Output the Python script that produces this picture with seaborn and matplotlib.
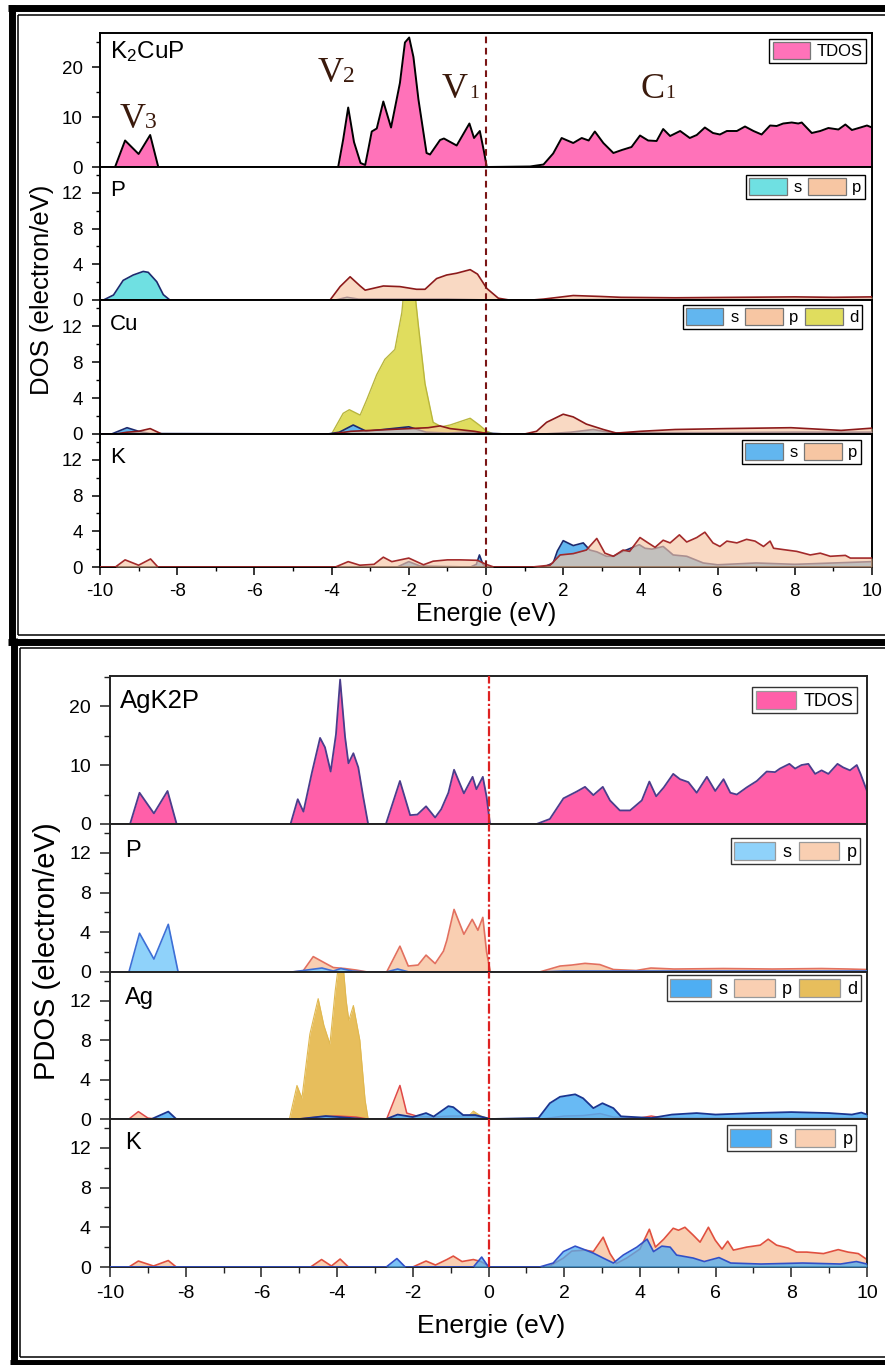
import numpy as np
import matplotlib
matplotlib.use("Agg")
import matplotlib.pyplot as plt
import seaborn as sns
from matplotlib.lines import Line2D
from matplotlib.patches import Patch
from matplotlib.ticker import MultipleLocator

# ---------------------------------------------------------------- data
# (energy in eV, DOS in electron/eV)
ENERGY_TICKS = [-10, -8, -6, -4, -2, 0, 2, 4, 6, 8, 10]

# K2CuP
k2cup_tdos = [(-10, 0), (-9.61, 0), (-9.35, 5.3), (-9.0, 2.6), (-8.70, 6.4), (-8.49, 0),
              (-3.83, 0), (-3.70, 5.5), (-3.57, 11.9), (-3.42, 5.0), (-3.25, 0.8), (-3.13, 0.4),
              (-3.05, 3.5), (-2.96, 7.1), (-2.83, 7.7), (-2.66, 13.1), (-2.46, 7.9), (-2.23, 16.8),
              (-2.10, 24.9), (-1.99, 25.9), (-1.88, 22.0), (-1.75, 13.5), (-1.54, 2.8), (-1.45, 2.5),
              (-1.19, 5.4), (-1.09, 5.7), (-0.76, 4.3), (-0.43, 8.7), (-0.31, 5.8), (-0.16, 7.2),
              (-0.05, 3.0), (0.02, 0.0), (1.14, 0.1), (1.49, 0.5), (1.74, 2.7), (1.96, 5.8),
              (2.26, 4.8), (2.48, 5.8), (2.66, 5.3), (2.82, 7.1), (3.04, 4.8), (3.30, 2.8),
              (3.52, 3.4), (3.77, 4.0), (3.99, 6.3), (4.2, 5.3), (4.42, 5.2), (4.59, 7.6),
              (4.77, 6.2), (5.03, 7.2), (5.28, 5.8), (5.46, 6.4), (5.67, 7.9), (5.88, 6.8),
              (6.06, 6.5), (6.24, 7.2), (6.5, 7.2), (6.71, 8.1), (6.93, 7.2), (7.14, 6.5),
              (7.36, 8.3), (7.53, 8.2), (7.7, 8.7), (7.92, 8.9), (8.09, 8.7), (8.18, 8.9),
              (8.44, 6.8), (8.66, 7.2), (8.87, 7.8), (9.13, 7.5), (9.31, 8.5), (9.48, 7.4),
              (9.70, 7.9), (9.87, 8.3), (10, 7.9)]
k2cup_P_s = [(-10, 0), (-9.91, 0), (-9.65, 0.56), (-9.40, 2.2), (-9.14, 2.8), (-8.88, 3.2),
             (-8.75, 3.1), (-8.53, 2.05), (-8.36, 0.6), (-8.19, 0), (-3.9, 0), (-3.6, 0.3),
             (-3.3, 0.1), (-1.0, 0.1), (0.1, 0.0), (1.5, 0.0), (2.5, 0.05), (10, 0.05)]
k2cup_P_p = [(-10, 0), (-4.04, 0), (-3.78, 1.5), (-3.52, 2.6), (-3.26, 1.57), (-3.13, 1.1),
             (-2.66, 1.57), (-2.23, 1.5), (-1.80, 1.2), (-1.58, 1.2), (-1.28, 2.4), (-1.02, 2.8),
             (-0.76, 3.0), (-0.41, 3.4), (-0.22, 2.9), (0.02, 1.3), (0.32, 0.2), (0.6, 0.0),
             (1.2, 0.0), (1.49, 0.1), (2.26, 0.5), (2.95, 0.4), (3.5, 0.3), (4.9, 0.25),
             (6.5, 0.3), (8.0, 0.35), (9.0, 0.3), (10, 0.35)]
k2cup_Cu_s = [(-10, 0), (-9.7, 0), (-9.3, 0.7), (-9.0, 0.3), (-8.7, 0.05), (-4.1, 0), (-3.8, 0.2),
              (-3.44, 1.0), (-3.1, 0.3), (-2.66, 0.5), (-2.0, 0.8), (-1.55, 0.2), (-1.0, 0.1),
              (-0.5, 0.2), (0.0, 0.1), (0.5, 0), (1.5, 0), (2.2, 0.2), (2.78, 0.5), (3.3, 0.1),
              (4.0, 0.15), (6.0, 0.15), (8.0, 0.2), (10, 0.2)]
k2cup_Cu_p = [(-10, 0), (-9.6, 0), (-9.3, 0.2), (-9.0, 0.3), (-8.7, 0.6), (-8.4, 0), (-4.0, 0),
              (-3.5, 0.3), (-3.0, 0.4), (-2.5, 0.5), (-2.0, 0.6), (-1.5, 0.7), (-1.19, 0.9),
              (-0.93, 0.6), (-0.3, 0.3), (0.1, 0), (1.0, 0), (1.31, 0.3), (1.57, 1.3), (2.0, 2.2),
              (2.26, 1.9), (2.6, 1.1), (3.04, 0.5), (3.38, 0.1), (4.0, 0.3), (4.9, 0.5),
              (6.2, 0.6), (7.9, 0.7), (9.2, 0.4), (10, 0.65)]
k2cup_Cu_d = [(-10, 0), (-4.0, 0), (-3.70, 2.3), (-3.54, 2.7), (-3.26, 2.1), (-3.09, 3.8),
              (-2.83, 6.6), (-2.62, 8.3), (-2.36, 9.4), (-2.18, 13.5), (-2.08, 18.0), (-1.95, 18.5),
              (-1.85, 16.0), (-1.75, 12.0), (-1.58, 5.6), (-1.37, 1.3), (-1.15, 0.8), (-0.93, 1.0),
              (-0.41, 1.75), (-0.16, 0.95), (0.02, 0.3), (0.2, 0), (10, 0)]
k2cup_K_s = [(-10, 0), (-2.3, 0), (-2.0, 0.6), (-1.7, 0.1), (-0.4, 0), (-0.25, 0.3), (-0.17, 1.35),
             (-0.08, 0.3), (0.0, 0), (1.5, 0), (1.74, 0.45), (1.85, 1.8), (2.0, 2.95), (2.26, 2.4),
             (2.52, 2.7), (2.69, 1.9), (2.87, 1.7), (3.12, 1.2), (3.3, 1.2), (3.55, 1.75),
             (3.86, 2.3), (3.97, 2.5), (4.12, 2.1), (4.3, 2.0), (4.59, 2.3), (4.85, 1.35),
             (5.2, 1.2), (5.63, 0.45), (6.0, 0.25), (7.0, 0.45), (8.0, 0.3), (9.0, 0.45), (10, 0.6)]
k2cup_K_p = [(-10, 0), (-9.6, 0), (-9.35, 0.8), (-9.0, 0.2), (-8.69, 0.9), (-8.5, 0), (-3.9, 0),
             (-3.57, 0.6), (-3.27, 0.2), (-2.9, 0.3), (-2.66, 1.1), (-2.44, 0.6), (-2.0, 1.0),
             (-1.62, 0.25), (-1.37, 0.65), (-1.0, 0.8), (-0.67, 0.8), (-0.22, 0.75), (0.0, 0.3),
             (0.2, 0), (1.2, 0), (1.66, 0.2), (1.92, 1.35), (2.26, 1.5), (2.6, 1.9), (2.87, 3.2),
             (3.08, 1.55), (3.3, 1.2), (3.55, 1.9), (3.72, 1.75), (3.99, 3.3), (4.2, 2.7),
             (4.38, 2.2), (4.59, 3.0), (4.77, 2.7), (5.01, 3.6), (5.2, 2.8), (5.46, 3.3),
             (5.67, 3.9), (5.88, 2.7), (6.06, 2.3), (6.24, 2.9), (6.5, 2.7), (6.75, 3.1),
             (6.97, 2.9), (7.19, 2.3), (7.36, 2.9), (7.45, 2.1), (7.79, 1.9), (8.05, 1.75),
             (8.4, 1.35), (8.66, 1.55), (8.92, 1.2), (9.31, 1.3), (9.44, 1.0), (10, 1.0)]

# AgK2P
agk2p_tdos = [(-10, 0), (-9.47, 0), (-9.22, 5.3), (-8.84, 1.8), (-8.48, 5.6), (-8.24, 0),
              (-5.23, 0), (-5.04, 4.2), (-4.89, 2.1), (-4.67, 8.6), (-4.45, 14.6), (-4.32, 13.0),
              (-4.17, 8.9), (-4.03, 15.2), (-3.92, 24.5), (-3.79, 14.8), (-3.70, 10.3),
              (-3.57, 12.0), (-3.44, 9.6), (-3.31, 4.6), (-3.18, 0), (-2.71, 0), (-2.34, 7.3),
              (-2.07, 1.5), (-1.88, 1.6), (-1.65, 3.0), (-1.41, 1.1), (-1.25, 2.5), (-1.06, 5.3),
              (-0.91, 9.2), (-0.65, 5.2), (-0.42, 8.0), (-0.32, 5.9), (-0.15, 8.0), (-0.05, 4.6),
              (0.04, 0), (1.27, 0), (1.62, 0.85), (1.98, 4.35), (2.33, 5.5), (2.55, 6.3),
              (2.77, 4.9), (3.02, 6.3), (3.21, 4.0), (3.47, 2.3), (3.74, 2.3), (4.05, 4.0),
              (4.25, 7.2), (4.43, 4.7), (4.63, 6.2), (4.88, 8.5), (5.06, 7.6), (5.28, 7.1),
              (5.50, 5.3), (5.77, 8.0), (5.99, 5.6), (6.21, 7.6), (6.39, 5.3), (6.56, 5.0),
              (6.82, 6.2), (7.09, 7.3), (7.35, 8.9), (7.57, 8.8), (7.70, 9.4), (7.95, 10.2),
              (8.10, 9.4), (8.27, 10.0), (8.45, 10.2), (8.63, 8.5), (8.80, 9.1), (8.98, 8.5),
              (9.22, 10.2), (9.37, 9.6), (9.55, 9.1), (9.73, 10.0), (9.83, 8.5), (10.0, 5.6)]
agk2p_P_s = [(-10, 0), (-9.5, 0), (-9.22, 3.9), (-8.84, 1.3), (-8.46, 4.8), (-8.2, 0), (-5.2, 0),
             (-4.4, 0.4), (-4.1, 0.1), (-3.9, 0.35), (-3.6, 0.1), (-3.2, 0), (-2.7, 0), (-2.4, 0.3),
             (-2.1, 0), (0.1, 0), (1.3, 0), (2.0, 0.1), (10, 0.1)]
agk2p_P_p = [(-10, 0), (-5.2, 0), (-4.9, 0.1), (-4.63, 1.55), (-4.32, 0.9), (-4.1, 0.45),
             (-3.8, 0.35), (-3.5, 0.2), (-3.2, 0), (-2.69, 0), (-2.34, 2.6), (-2.12, 0.6),
             (-1.86, 0.7), (-1.65, 1.7), (-1.41, 0.85), (-1.19, 2.1), (-1.10, 3.2), (-0.91, 6.3),
             (-0.65, 3.8), (-0.43, 5.3), (-0.28, 4.2), (-0.15, 5.5), (-0.05, 2.0), (0.05, 0),
             (1.35, 0), (1.89, 0.6), (2.2, 0.7), (2.55, 0.87), (2.94, 0.75), (3.3, 0.25),
             (3.9, 0.15), (4.29, 0.4), (4.9, 0.3), (6.2, 0.35), (7.5, 0.3), (8.8, 0.35),
             (9.5, 0.3), (10, 0.25)]
agk2p_Ag_s = [(-10, 0), (-8.9, 0), (-8.46, 0.75), (-8.25, 0), (-5.0, 0), (-4.3, 0.3), (-3.8, 0.15),
              (-3.3, 0), (-2.7, 0), (-2.4, 0.45), (-2.0, 0.2), (-1.65, 0.6), (-1.45, 0.25),
              (-1.06, 1.3), (-0.93, 1.2), (-0.67, 0.4), (-0.35, 0.4), (0.05, 0), (1.32, 0.1),
              (1.62, 1.6), (1.89, 2.25), (2.29, 2.5), (2.5, 2.1), (2.77, 1.1), (3.01, 1.6),
              (3.3, 1.1), (3.5, 0.27), (4.3, 0.1), (4.85, 0.45), (5.5, 0.6), (6.0, 0.45),
              (7.0, 0.6), (8.0, 0.7), (9.0, 0.6), (9.6, 0.45), (9.85, 0.65), (10, 0.45)]
agk2p_Ag_p = [(-10, 0), (-9.5, 0), (-9.25, 0.75), (-9.0, 0.1), (-8.8, 0), (-5.0, 0), (-4.5, 0.2),
              (-4.0, 0.3), (-3.5, 0.2), (-3.2, 0), (-2.69, 0), (-2.34, 3.4), (-2.16, 0.6),
              (-1.9, 0.3), (-1.5, 0.2), (-1.0, 0.3), (-0.5, 0.3), (0.05, 0), (1.4, 0), (2.0, 0.3),
              (2.5, 0.35), (2.95, 0.55), (3.3, 0.2), (4.0, 0.1), (4.3, 0.3), (4.6, 0.1), (10, 0.1)]
agk2p_Ag_d = [(-10, 0), (-5.26, 0), (-5.06, 3.4), (-4.93, 2.1), (-4.72, 8.6), (-4.5, 12.2),
              (-4.35, 9.5), (-4.19, 7.6), (-4.05, 13.0), (-3.95, 16.0), (-3.85, 16.0),
              (-3.76, 12.0), (-3.69, 10.0), (-3.57, 11.5), (-3.40, 8.0), (-3.26, 1.9), (-3.18, 0),
              (-0.6, 0), (-0.4, 0.8), (-0.2, 0.3), (0.05, 0), (10, 0)]
agk2p_K_s = [(-10, 0), (-2.7, 0), (-2.42, 0.85), (-2.2, 0), (-0.4, 0), (-0.18, 1.0), (0.0, 0),
             (1.35, 0), (1.71, 0.4), (1.98, 1.55), (2.29, 2.1), (2.5, 1.8), (2.77, 1.4),
             (3.03, 0.9), (3.3, 0.4), (3.56, 1.2), (3.92, 2.0), (4.19, 2.8), (4.36, 1.55),
             (4.58, 2.1), (4.8, 2.0), (4.97, 1.2), (5.41, 0.9), (5.7, 0.55), (6.09, 0.95),
             (6.4, 0.4), (7.2, 0.3), (8.3, 0.4), (9.3, 0.3), (9.72, 0.55), (10, 0.3)]
agk2p_K_p = [(-10, 0), (-9.5, 0), (-9.25, 0.6), (-8.85, 0.1), (-8.46, 0.65), (-8.25, 0), (-4.7, 0),
             (-4.41, 0.75), (-4.15, 0.1), (-3.92, 0.8), (-3.7, 0), (-2.0, 0), (-1.65, 0.6),
             (-1.4, 0.2), (-1.1, 0.75), (-0.93, 1.1), (-0.7, 0.55), (-0.4, 0.75), (-0.2, 0.55),
             (0.05, 0), (1.5, 0), (1.62, 0.1), (1.98, 0.9), (2.2, 1.6), (2.55, 1.7), (2.77, 1.55),
             (3.03, 3.0), (3.21, 1.35), (3.38, 0.35), (3.65, 0.9), (4.0, 1.8), (4.25, 3.8),
             (4.41, 2.0), (4.63, 2.8), (4.88, 3.9), (5.02, 3.7), (5.19, 4.0), (5.41, 3.2),
             (5.59, 2.5), (5.81, 4.0), (5.99, 2.7), (6.17, 1.8), (6.32, 2.6), (6.47, 1.7),
             (6.82, 2.0), (7.18, 2.2), (7.39, 2.8), (7.61, 2.2), (7.92, 1.9), (8.14, 1.5),
             (8.41, 1.5), (8.85, 1.35), (9.24, 1.75), (9.5, 1.5), (9.77, 1.35), (10, 0.75)]

# ---------------------------------------------------------------- style
sns.set_theme(style="ticks")
plt.rcParams["font.family"] = ["Liberation Sans", "DejaVu Sans"]
plt.rcParams.update({
    "mathtext.fontset": "custom",
    "mathtext.rm": "Liberation Sans",
    "mathtext.it": "Liberation Sans:italic",
    "text.color": "black",
    "axes.labelcolor": "black",
    "xtick.color": "black",
    "ytick.color": "black",
    "axes.edgecolor": "black",
})

W, H = 885, 1365
fig = plt.figure(figsize=(W / 100, H / 100), dpi=100)
fig.patch.set_facecolor("white")


def fx(x):
    return x / W


def fy(y):
    return 1 - y / H


def panel(left, right, top, bottom):
    return fig.add_axes([fx(left), fy(bottom), fx(right) - fx(left), (bottom - top) / H])


def dos(ax, pts, fill, edge, lw=1.2, alpha=1.0, z=2):
    e = [p[0] for p in pts]
    v = [p[1] for p in pts]
    ax.fill_between(e, 0, v, color=fill, alpha=alpha, lw=0, zorder=z)
    sns.lineplot(x=e, y=v, ax=ax, color=edge, lw=lw, estimator=None, sort=False,
                 zorder=z + 0.5, legend=False)


def legend(ax, labels, colors, corner, fs, edge_color, frame_color):
    handles = [Patch(facecolor=c, edgecolor=edge_color, lw=0.9) for c in colors]
    leg = ax.legend(handles, labels, loc="upper right", ncol=len(labels), fontsize=fs,
                    bbox_to_anchor=(fx(corner[0]), fy(corner[1])), bbox_transform=fig.transFigure,
                    frameon=True, fancybox=False, framealpha=1, edgecolor=frame_color,
                    borderpad=0.2, handlelength=2.25, handleheight=1.15, handletextpad=0.4,
                    columnspacing=0.4, borderaxespad=0)
    leg.get_frame().set_linewidth(1.0)
    leg.set_zorder(10)


def style_axis(ax, ymax, major, minor, fs, spine_c, tick_len, bottom_panel):
    ax.set_xlim(-10, 10)
    ax.set_ylim(0, ymax)
    ax.yaxis.set_major_locator(MultipleLocator(major))
    ax.yaxis.set_minor_locator(MultipleLocator(minor))
    ax.xaxis.set_major_locator(MultipleLocator(2))
    ax.xaxis.set_minor_locator(MultipleLocator(1))
    for s in ax.spines.values():
        s.set_linewidth(1.4)
        s.set_color(spine_c)
    ax.tick_params(axis="y", which="major", direction="out", length=tick_len, width=1.1,
                   labelsize=fs, pad=6.5, right=False, color=spine_c)
    ax.tick_params(axis="y", which="minor", direction="out", length=tick_len * 0.55, width=1.0,
                   right=False, color=spine_c)
    if bottom_panel:
        ax.set_xticks(ENERGY_TICKS)
        ax.set_xticklabels([str(t) for t in ENERGY_TICKS])
        ax.tick_params(axis="x", which="major", direction="out", length=tick_len, width=1.1,
                       labelsize=fs, pad=6, top=False, color=spine_c)
        ax.tick_params(axis="x", which="minor", direction="out", length=tick_len * 0.55,
                       width=1.0, top=False, color=spine_c)
    else:
        ax.tick_params(axis="x", which="both", bottom=False, top=False, labelbottom=False)
    ax.set_xlabel("")
    ax.set_ylabel("")
    ax.set_facecolor("white")


# ---------------------------------------------------------------- K2CuP block
TL, TR = 100, 872
top_rows = [(33, 167), (167, 300), (300, 434), (434, 567)]
tax = [panel(TL, TR, a, b) for a, b in top_rows]

PINK_T, CYAN, PEACH_T, BLUE_T, YELLOW = "#ff72b9", "#6fe0e2", "#f7c6a3", "#62b6ef", "#e0dd5e"
NAVY, DRED = "#1c2a6e", "#8c1a1a"

dos(tax[0], k2cup_tdos, PINK_T, "black", lw=1.4)
dos(tax[1], k2cup_P_s, CYAN, NAVY, lw=1.2)
dos(tax[1], k2cup_P_p, PEACH_T, DRED, lw=1.2, alpha=0.65, z=3)
dos(tax[2], k2cup_Cu_d, YELLOW, "#b9b63c", lw=1.0)
dos(tax[2], k2cup_Cu_s, BLUE_T, NAVY, lw=1.2, z=3)
dos(tax[2], k2cup_Cu_p, PEACH_T, DRED, lw=1.2, alpha=0.65, z=4)
dos(tax[3], k2cup_K_s, BLUE_T, NAVY, lw=1.2)
dos(tax[3], k2cup_K_p, PEACH_T, "#a32a2a", lw=1.2, alpha=0.65, z=3)

for i, ax in enumerate(tax):
    if i == 0:
        style_axis(ax, 26.8, 10, 5, 13.5, "black", 5.8, False)
    else:
        style_axis(ax, 14.9, 4, 2, 13.5, "black", 5.8, i == 3)
    ax.axvline(0, color="#7a1515", lw=1.5, ls=(0, (3.2, 2.2)), zorder=8)

tax[0].text(0.013, 0.86, "K$_2$CuP", transform=tax[0].transAxes, fontsize=17.5,
            ha="left", va="center", zorder=9)
for ax, name in zip(tax[1:], ["P", "Cu", "K"]):
    ax.text(0.013, 0.82, name, transform=ax.transAxes, fontsize=16, ha="left", va="center",
            zorder=9)

# band region labels
BROWN = "#3b1a0c"
for sym, sub, e, v, dx, sfs in [("V", "3", -9.15, 7.85, 8.6, 17), ("V", "2", -4.02, 16.9, 8.6, 17),
                                 ("V", "1", -0.82, 13.7, 10.5, 14), ("C", "1", 4.31, 13.7, 9.5, 14)]:
    tax[0].annotate(sym, xy=(e, v), xycoords="data", ha="center", va="baseline", fontsize=26,
                    family="Liberation Serif", color=BROWN, zorder=9)
    tax[0].annotate(sub, xy=(e, v), xycoords="data", xytext=(dx, 0), textcoords="offset points",
                    ha="left", va="baseline", fontsize=sfs, family="Liberation Serif",
                    color=BROWN, zorder=9)

legend(tax[0], ["TDOS"], [PINK_T], (866, 39), 12, "#777777", "black")
legend(tax[1], ["s", "p"], [CYAN, PEACH_T], (865, 175), 12, "#777777", "black")
legend(tax[2], ["s", "p", "d"], [BLUE_T, PEACH_T, YELLOW], (862, 305), 12, "#777777", "black")
legend(tax[3], ["s", "p"], [BLUE_T, PEACH_T], (861, 440), 12, "#777777", "black")

fig.text(fx(42), fy(290), "DOS (electron/eV)", rotation=90, fontsize=18.5, ha="center",
         va="center")
fig.text(fx(486), fy(614), "Energie (eV)", fontsize=18, ha="center", va="center")

# ---------------------------------------------------------------- AgK2P block
BL, BR = 110, 867
bot_rows = [(676, 824), (824, 972), (972, 1119), (1119, 1267)]
bax = [panel(BL, BR, a, b) for a, b in bot_rows]

PINK_B, LBLUE, PEACH_B, BLUE_B, GOLD = "#ff5fa9", "#8fd2fa", "#f9cfb2", "#4eaef3", "#e7be5c"
SPINE_B = "#222222"

dos(bax[0], agk2p_tdos, PINK_B, "#4a3d8c", lw=1.3)
dos(bax[1], agk2p_P_p, PEACH_B, "#e2705f", lw=1.2)
dos(bax[1], agk2p_P_s, LBLUE, "#3d6fd6", lw=1.2, z=3)
dos(bax[2], agk2p_Ag_d, GOLD, "#e0b850", lw=0.8)
dos(bax[2], agk2p_Ag_p, PEACH_B, "#e04848", lw=1.1, z=3)
dos(bax[2], agk2p_Ag_s, BLUE_B, "#1a3590", lw=1.3, alpha=0.85, z=4)
dos(bax[3], agk2p_K_p, PEACH_B, "#e0503f", lw=1.2)
dos(bax[3], agk2p_K_s, BLUE_B, "#3050c8", lw=1.2, alpha=0.75, z=3)

for i, ax in enumerate(bax):
    if i == 0:
        style_axis(ax, 25.1, 10, 5, 14, SPINE_B, 7.2, False)
    else:
        style_axis(ax, 14.9, 4, 2, 14, SPINE_B, 7.2, i == 3)
    ax.axvline(0, color="#de2222", lw=1.6, ls=(0, (4.5, 1.2, 1.0, 1.2)), zorder=8)

bax[0].text(0.013, 0.83, "AgK2P", transform=bax[0].transAxes, fontsize=18.5, ha="left",
            va="center", zorder=9)
for ax, name, yy in zip(bax[1:], ["P", "Ag", "K"], [0.82, 0.82, 0.84]):
    ax.text(0.02, yy, name, transform=ax.transAxes, fontsize=17, ha="left", va="center",
            zorder=9)

legend(bax[0], ["TDOS"], [PINK_B], (857, 687), 13, "#999999", "#333333")
legend(bax[1], ["s", "p"], [LBLUE, PEACH_B], (860, 838), 13, "#999999", "#333333")
legend(bax[2], ["s", "p", "d"], [BLUE_B, PEACH_B, GOLD], (861, 975), 13, "#999999", "#333333")
legend(bax[3], ["s", "p"], [BLUE_B, PEACH_B], (856, 1125), 13, "#999999", "#333333")

fig.text(fx(47), fy(951), "PDOS (electron/eV)", rotation=90, fontsize=21, ha="center",
         va="center")
fig.text(fx(491), fy(1326), "Energie (eV)", fontsize=19, ha="center", va="center")

# ---------------------------------------------------------------- double-line frames
THICK, THIN = 5.0, 1.1


def frame_line(xs, ys, lw):
    fig.add_artist(Line2D([fx(x) for x in xs], [fy(y) for y in ys], color="black", lw=lw,
                          solid_capstyle="butt", transform=fig.transFigure, zorder=20))


# upper frame
frame_line([8, 885], [8, 8], THICK)
frame_line([11.5, 11.5], [4.5, 641], THICK)
frame_line([18, 885], [15, 15], THIN)
frame_line([18, 18], [15, 635], THIN)
frame_line([18, 885], [635, 635], THIN)
frame_line([8, 885], [641.5, 641.5], THICK)
# lower frame
frame_line([20, 885], [647.5, 647.5], THIN)
frame_line([13.5, 13.5], [638, 1365], THICK)
frame_line([20, 20], [647.5, 1357], THIN)
frame_line([20, 885], [1357, 1357], THIN)
frame_line([10, 885], [1362.5, 1362.5], THICK)

fig.savefig("out.png", dpi=100, facecolor="white")
